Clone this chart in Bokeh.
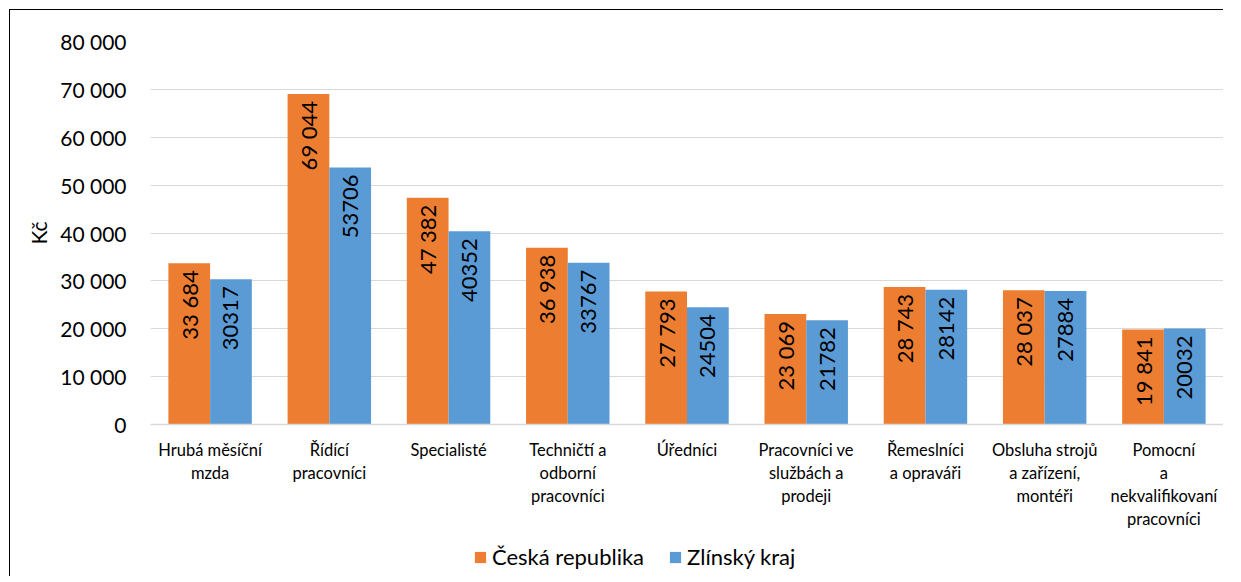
import math
from bokeh.plotting import figure
from bokeh.layouts import column
from bokeh.models import FactorRange, ColumnDataSource, Legend, LegendItem, FixedTicker, Range1d
from bokeh.transform import dodge
from bokeh.core.properties import value
from bokeh.embed import file_html
from bokeh.resources import INLINE

categories = [
    "Hrubá měsíční\nmzda",
    "Řídící\npracovníci",
    "Specialisté",
    "Techničtí a\nodborní\npracovníci",
    "Úředníci",
    "Pracovníci ve\nslužbách a\nprodeji",
    "Řemeslníci\na opraváři",
    "Obsluha strojů\na zařízení,\nmontéři",
    "Pomocní\na\nnekvalifikovaní\npracovníci",
]
ceska_republika = [33684, 69044, 47382, 36938, 27793, 23069, 28743, 28037, 19841]
zlinsky_kraj = [30317, 53706, 40352, 33767, 24504, 21782, 28142, 27884, 20032]
series_names = ["Česká republika", "Zlínský kraj"]
y_ticks = [0, 10000, 20000, 30000, 40000, 50000, 60000, 70000, 80000]
y_tick_labels = ["0", "10 000", "20 000", "30 000", "40 000", "50 000", "60 000", "70 000", "80 000"]

ORANGE = "#ED7D31"
BLUE = "#5B9BD5"
FONT = "Lato"

src = ColumnDataSource(dict(
    cat=categories,
    cz=ceska_republika,
    zl=zlinsky_kraj,
    cz_lbl=[f"{v:,}".replace(",", " ") for v in ceska_republika],
    zl_lbl=[str(v) for v in zlinsky_kraj],
))

p = figure(
    x_range=FactorRange(factors=categories, range_padding=0),
    y_range=Range1d(0, 80000),
    frame_width=1073, frame_height=383,
    min_border_left=140, min_border_top=31, min_border_right=0, min_border_bottom=112,
    output_backend="svg", toolbar_location=None,
)
p.outline_line_color = None
p.background_fill_color = "white"
p.border_fill_color = "white"

bw = 0.35
r1 = p.vbar(x=dodge("cat", -bw / 2, range=p.x_range), top="cz", width=bw, source=src,
            fill_color=ORANGE, line_color=None)
r2 = p.vbar(x=dodge("cat", bw / 2, range=p.x_range), top="zl", width=bw, source=src,
            fill_color=BLUE, line_color=None)

for col, lbl, off in (("cz", "cz_lbl", -bw / 2), ("zl", "zl_lbl", bw / 2)):
    p.text(x=dodge("cat", off, range=p.x_range), y=col, text=lbl, source=src,
           angle=math.pi / 2, text_align="right", text_baseline="middle",
           y_offset=7, text_font=value(FONT), text_font_size="22px", text_color="#000000")

p.xgrid.grid_line_color = None
p.ygrid.grid_line_color = "#D9D9D9"
p.ygrid.grid_line_width = 1.2

p.yaxis.ticker = FixedTicker(ticks=y_ticks)
p.yaxis.major_label_overrides = {t: l for t, l in zip(y_ticks, y_tick_labels)}
p.yaxis.axis_line_color = None
p.yaxis.major_tick_line_color = None
p.yaxis.minor_tick_line_color = None
p.yaxis.major_label_text_font = FONT
p.yaxis.major_label_text_font_size = "21px"
p.yaxis.major_label_text_color = "#000000"
p.yaxis.major_label_standoff = 18
p.yaxis.axis_label = "Kč"
p.yaxis.axis_label_text_font = FONT
p.yaxis.axis_label_text_font_size = "21px"
p.yaxis.axis_label_text_font_style = "normal"
p.yaxis.axis_label_text_color = "#000000"
p.yaxis.axis_label_standoff = 6

p.xaxis.axis_line_color = "#D9D9D9"
p.xaxis.axis_line_width = 1.5
p.xaxis.major_tick_line_color = None
p.xaxis.minor_tick_line_color = None
p.xaxis.major_label_text_font = FONT
p.xaxis.major_label_text_font_size = "16.5px"
p.xaxis.major_label_text_color = "#000000"
p.xaxis.major_label_text_line_height = 1.15
p.xaxis.major_label_standoff = 9

# separate strip for the legend (keys reuse the series' colours)
lg = figure(width=1213, height=40, x_axis_type=None, y_axis_type=None,
            x_range=Range1d(0, 1), y_range=Range1d(0, 1),
            min_border=0, output_backend="svg", toolbar_location=None)
lg.outline_line_color = None
lg.xgrid.grid_line_color = None
lg.ygrid.grid_line_color = None
k1 = lg.vbar(x=[-1], top=[0], width=0.1, fill_color=ORANGE, line_color=None)
k2 = lg.vbar(x=[-1], top=[0], width=0.1, fill_color=BLUE, line_color=None)
legend = Legend(
    items=[LegendItem(label=series_names[0], renderers=[k1]),
           LegendItem(label=series_names[1], renderers=[k2])],
    orientation="horizontal", location=(323, 6),
    label_text_font=FONT, label_text_font_size="22px", label_text_color="#000000",
    glyph_width=14, glyph_height=14, label_standoff=5, spacing=24,
    border_line_color=None, background_fill_alpha=0, margin=0, padding=2,
)
lg.add_layout(legend, "center")

layout = column(p, lg, spacing=0,
                styles={"border-left": "1.5px solid #000", "border-top": "1.5px solid #000",
                        "margin-left": "9px", "margin-top": "9px"})

open("out.html", "w").write(file_html(layout, INLINE))
